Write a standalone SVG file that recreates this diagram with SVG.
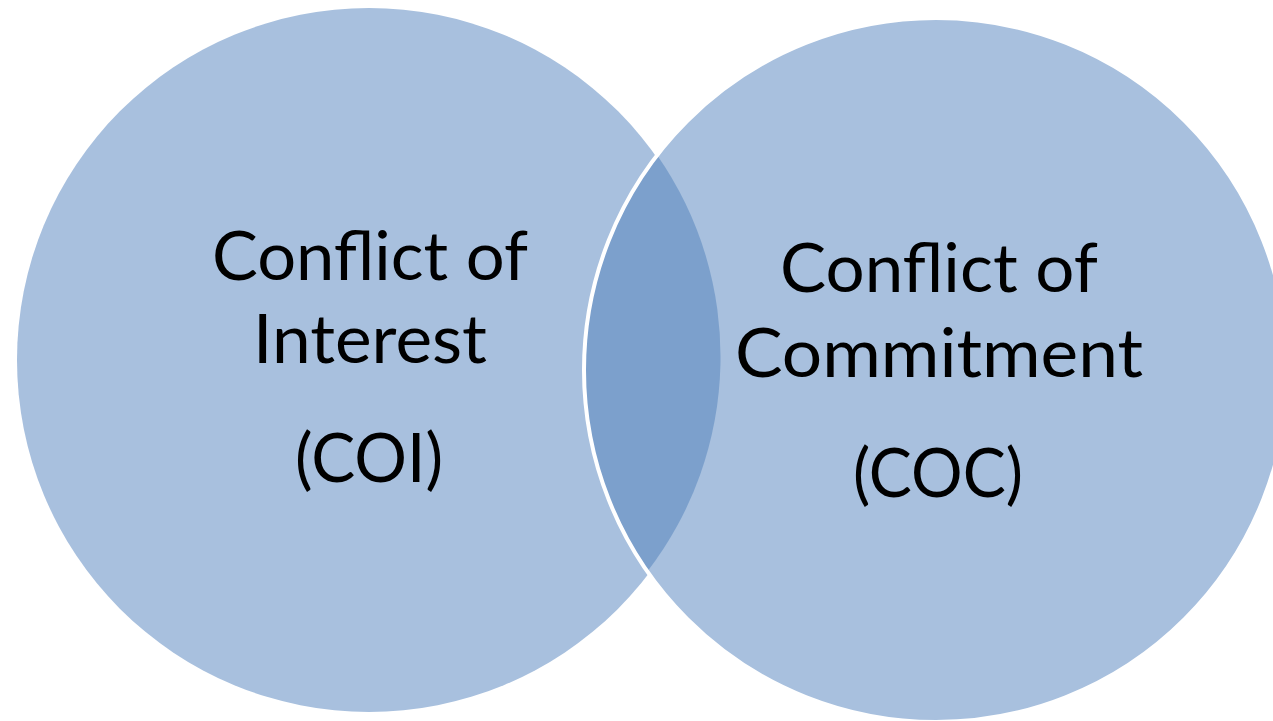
<svg xmlns="http://www.w3.org/2000/svg" width="1273" height="721" viewBox="0 0 1273 721">
<style>
.circ{fill:#A8C0DE;}
.lens{fill:#7CA0CC;}
.lbl{font-family:Lato,"Open Sans","Liberation Sans",sans-serif;font-size:68px;fill:#000;text-anchor:middle;}
</style>
<rect width="1273" height="721" fill="#FFFFFF"/>
<g id="coi">
<circle class="circ" cx="369" cy="360" r="352"/>
</g>
<g id="coc">
<circle class="circ" cx="936" cy="370" r="352"/>
</g>
<g id="overlap">
<path class="lens" d="M 657 155 A 352 352 0 0 0 647 572 A 352 352 0 0 0 657 155 Z"/>
<circle cx="936" cy="370" r="352" fill="none" stroke="#FFFFFF" stroke-width="4"/>
</g>
<g id="labels">
<text class="lbl" x="370" y="280" textLength="316" lengthAdjust="spacingAndGlyphs">Conflict of</text>
<text class="lbl" x="370" y="363" textLength="234" lengthAdjust="spacingAndGlyphs">Interest</text>
<text class="lbl" x="369" y="482" textLength="148" lengthAdjust="spacingAndGlyphs">(COI)</text>
<text class="lbl" x="939" y="292" textLength="318" lengthAdjust="spacingAndGlyphs">Conflict of</text>
<text class="lbl" x="939" y="377" textLength="408" lengthAdjust="spacingAndGlyphs">Commitment</text>
<text class="lbl" x="938" y="497" textLength="170" lengthAdjust="spacingAndGlyphs">(COC)</text>
</g>
</svg>
